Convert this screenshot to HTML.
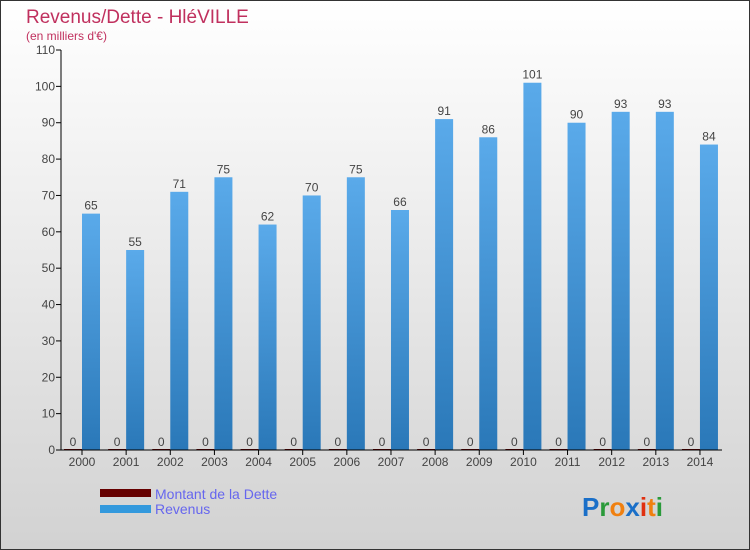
<!DOCTYPE html>
<html><head><meta charset="utf-8"><style>
body{margin:0}
#c{width:750px;height:550px;position:relative;box-sizing:border-box;border:1px solid #333;background:linear-gradient(#fff,#d2d2d2);font-family:"Liberation Sans",sans-serif;overflow:hidden}
</style></head><body>
<div id="c">
<svg width="750" height="550" style="position:absolute;left:-1px;top:-1px" id="s">
<defs><linearGradient id="gb" x1="0" x2="0" y1="0" y2="1"><stop offset="0" stop-color="#5aaaea"/><stop offset="1" stop-color="#2a78b8"/></linearGradient></defs>
<text x="26" y="23" font-size="19" fill="#c0305e">Revenus/Dette - HléVILLE</text>
<text x="26" y="40" font-size="12" fill="#c0305e">(en milliers d'€)</text>
<g id="g"></g>
<rect x="100" y="489" width="51" height="8" fill="#660000"/>
<rect x="100" y="505" width="51" height="8" fill="#3399dd"/>
<text x="155" y="499" font-size="14" fill="#6666ee">Montant de la Dette</text>
<text x="155" y="514" font-size="14" fill="#6666ee">Revenus</text>
<text x="582" y="516" font-size="26" font-weight="bold"><tspan fill="#1a6fc8">P</tspan><tspan fill="#2a9a3a">r</tspan><tspan fill="#f08010">o</tspan><tspan fill="#1a6fc8">x</tspan><tspan fill="#e03010">i</tspan><tspan fill="#f08010">t</tspan><tspan fill="#2a9a3a">i</tspan></text>
</svg>
</div>
<script>
const years=["2000","2001","2002","2003","2004","2005","2006","2007","2008","2009","2010","2011","2012","2013","2014"];
const revenus=[65,55,71,75,62,70,75,66,91,86,101,90,93,93,84];
const dette=[0,0,0,0,0,0,0,0,0,0,0,0,0,0,0];
const yTicks=[0,10,20,30,40,50,60,70,80,90,100,110];
const NS="http://www.w3.org/2000/svg",g=document.getElementById('g');
const y=v=>450-v*400/110, gx=i=>64+i*44.14;
function mk(t,a,txt){const e=document.createElementNS(NS,t);for(const k in a)e.setAttribute(k,a[k]);if(txt!=null)e.textContent=txt;g.appendChild(e);return e;}
yTicks.forEach(t=>{
 const l=mk('line',{x1:56,x2:61,y1:y(t),y2:y(t),stroke:'#000'});
 
 
 const e=mk('text',{x:55,y:y(t)+4,'font-size':12,fill:'#444','text-anchor':'end'},t);
 
 
});
years.forEach((yr,i)=>{
 const x=gx(i);
 const d=mk('rect',{x:x,y:y(dette[i])-1,width:18,height:450-y(dette[i])+1,fill:'#660000'});
 
 
 const r=mk('rect',{x:x+18,y:y(revenus[i]),width:18,height:450-y(revenus[i]),fill:'url(#gb)'});
 
 
 const dl=mk('text',{x:x+9,y:y(dette[i])-4,'font-size':12,fill:'#444','text-anchor':'middle'},dette[i]);
 
 
 const rl=mk('text',{x:x+27,y:y(revenus[i])-4,'font-size':12,fill:'#444','text-anchor':'middle'},revenus[i]);
 
 
 const tk=mk('line',{x1:x+18,x2:x+18,y1:450,y2:455,stroke:'#000'});
 
 
 const xl=mk('text',{x:x+18,y:466,'font-size':12,fill:'#444','text-anchor':'middle'},yr);
 
 
});
const ax=mk('path',{d:'M61 50V450H722',stroke:'#000',fill:'none'});


</script>
</body></html>
